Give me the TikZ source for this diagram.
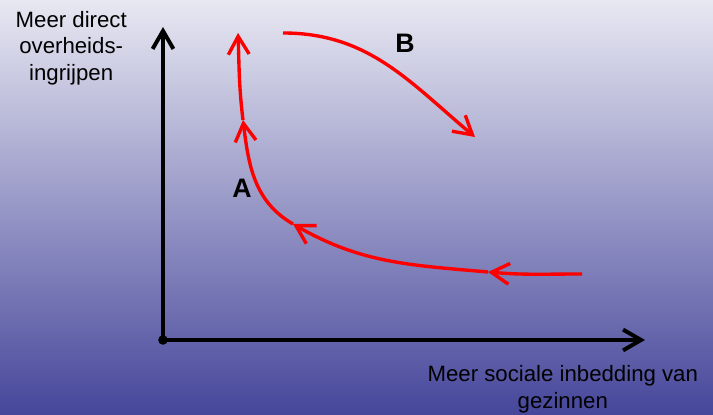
\documentclass[tikz,border=0pt]{standalone}
\usepackage{fontspec}
\setmainfont{Liberation Sans}
\usetikzlibrary{arrows.meta,positioning}
\definecolor{bgtop}{RGB}{232,232,242}
\definecolor{bgbot}{RGB}{70,70,155}

\begin{document}
\begin{tikzpicture}[>={Straight Barb[length=4.5mm,width=5.2mm]},
  axis/.style={line width=2.8pt,->},
  path/.style={red,line width=2.4pt,->},
  lab/.style={font=\fontsize{15.8}{19}\selectfont,align=center,inner sep=0pt},
  letter/.style={font=\fontsize{19}{22}\selectfont\bfseries,inner sep=0pt}]
\shade[top color=bgtop,bottom color=bgbot] (0,0) rectangle (17.825,10.375);
% axes
\node[circle,fill=black,inner sep=0pt,minimum size=2.4mm] (orig) at (4.075,1.875) {};
\coordinate (ytop) at (4.075,9.7);
\coordinate (xend) at (16.125,1.875);
\draw[axis] (orig.center) -- (ytop);
\draw[axis] (orig.center) -- (xend);
\node[lab] (ylab) at (1.78,9.175) {Meer direct\\overheids-\\ingrijpen};
\node[lab] (xlab) at (14.07,0.64) {Meer sociale inbedding van\\gezinnen};
% route A
\coordinate (a0) at (14.55,3.525);
\coordinate (a1) at (12.2,3.575);
\coordinate (a2) at (7.325,4.775);
\coordinate (a3) at (6.075,7.375);
\coordinate (a4) at (5.95,9.55);
\draw[path] (a0) to[out=180,in=-5] (a1);
\draw[path] (a1) to[out=175,in=-30] (a2);
\draw[path] (a2) to[out=150,in=-83] (a3);
\draw[path] (a3) to[out=97,in=-88] (a4);
\node[letter] (labA) at (6.05,5.675) {A};
% route B
\coordinate (b0) at (7.075,9.55);
\coordinate (b1) at (11.875,6.95);
\draw[path] (b0) to[out=0,in=140] (b1);
\node[letter] (labB) at (10.125,9.3) {B};
\end{tikzpicture}
\end{document}
